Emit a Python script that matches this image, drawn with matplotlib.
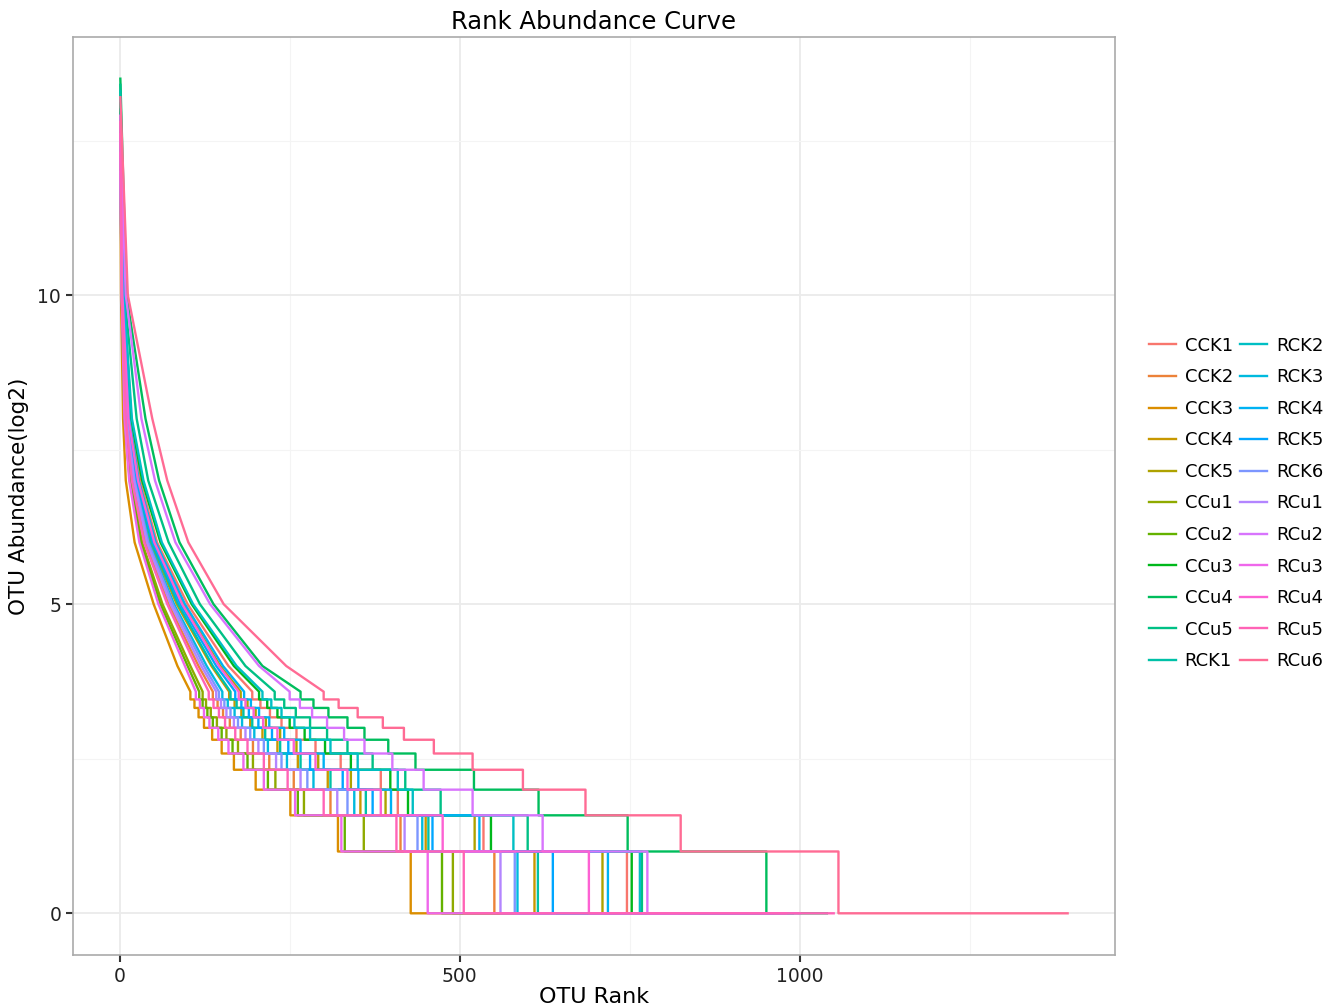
import numpy as np
import matplotlib.pyplot as plt

samples = ["CCK1", "CCK2", "CCK3", "CCK4", "CCK5", "CCu1", "CCu2", "CCu3", "CCu4", "CCu5",
           "RCK1", "RCK2", "RCK3", "RCK4", "RCK5", "RCK6", "RCu1", "RCu2", "RCu3", "RCu4",
           "RCu5", "RCu6"]

# last OTU rank still holding at least k reads (k = 1 .. 12), one value per sample
last_rank_1 = [950, 790, 590, 880, 940, 720, 700, 960, 1040, 990, 900, 970,
               830, 960, 920, 850, 820, 1000, 640, 980, 1050, 1394]
last_rank_2 = [746, 551, 428, 610, 710, 490, 474, 753, 951, 768, 615, 765,
               585, 718, 637, 581, 560, 776, 453, 690, 506, 1057]
last_rank_3 = [535, 413, 321, 450, 522, 359, 331, 546, 747, 600, 454, 579,
               445, 529, 460, 438, 419, 622, 326, 475, 407, 825]
last_rank_4 = [409, 310, 251, 354, 391, 271, 262, 424, 616, 472, 362, 431,
               345, 399, 372, 335, 320, 519, 258, 384, 300, 685]
last_rank_5 = [384, 256, 200, 306, 340, 229, 218, 398, 521, 420, 310, 409,
               285, 351, 328, 276, 266, 447, 212, 335, 247, 593]
last_rank_6 = [325, 220, 168, 262, 292, 196, 188, 340, 435, 372, 266, 350,
               246, 300, 280, 238, 230, 401, 182, 288, 212, 519]
last_rank_7 = [288, 196, 150, 232, 260, 174, 166, 302, 395, 335, 236, 310,
               218, 266, 248, 212, 204, 360, 160, 256, 188, 462]
last_rank_8 = [260, 178, 136, 210, 236, 157, 150, 272, 360, 305, 214, 280,
               198, 242, 224, 192, 185, 330, 145, 232, 170, 418]
last_rank_9 = [238, 162, 124, 192, 215, 143, 137, 250, 335, 280, 195, 257,
               180, 220, 204, 174, 168, 305, 132, 211, 155, 387]
last_rank_10 = [221, 152, 116, 179, 200, 134, 129, 232, 307, 259, 182, 238,
                169, 205, 190, 163, 157, 283, 124, 197, 146, 350]
last_rank_11 = [207, 144, 110, 169, 188, 127, 122, 217, 285, 242, 172, 223,
                159, 193, 179, 154, 149, 265, 118, 185, 138, 322]
last_rank_12 = [195, 137, 104, 161, 178, 122, 117, 205, 266, 228, 163, 210,
                151, 183, 170, 146, 142, 250, 112, 175, 131, 300]

# rank where each curve reaches log2 abundance 4, 5, 6, 7, 8, 10
rank_at_4 = [160, 116, 85, 135, 148, 104, 100, 168, 210, 185, 137, 172,
             128, 152, 142, 124, 120, 205, 96, 146, 112, 245]
rank_at_5 = [100, 72, 50, 84, 93, 63, 60, 106, 138, 118, 86, 108,
             80, 96, 89, 78, 75, 133, 57, 92, 70, 153]
rank_at_6 = [55, 38, 22, 45, 52, 33, 31, 60, 88, 72, 47, 62,
             43, 53, 49, 42, 40, 82, 29, 51, 36, 101]
rank_at_7 = [30, 19, 9, 23, 27, 16, 15, 33, 58, 42, 25, 35,
             23, 28, 25, 22, 21, 52, 14, 27, 18, 70]
rank_at_8 = [15, 9, 5, 11, 13, 8, 7, 17, 38, 25, 12, 18,
             11, 14, 12, 10, 10, 32, 7, 13, 9, 48]
rank_at_10 = [5, 3, 2, 4, 4, 3, 3, 6, 10, 7, 4, 6,
              4, 5, 4, 3, 3, 9, 3, 4, 3, 12]
top_log2 = [12.6, 12.4, 12.5, 13.1, 12.4, 12.2, 13.0, 13.0, 13.5, 13.4, 13.3, 12.9,
            12.9, 12.8, 12.7, 12.6, 12.0, 12.6, 12.3, 12.9, 12.8, 13.2]


def hue_pal(n, l=65, c=100):
    # ggplot2 default discrete palette (HCL hues from 15 to 375)
    h = np.deg2rad(np.linspace(15, 375, n + 1)[:-1])
    u = c * np.cos(h)
    v = c * np.sin(h)
    Y = ((l + 16) / 116) ** 3
    un, vn = 0.1978398, 0.4683363
    up = u / (13 * l) + un
    vp = v / (13 * l) + vn
    X = Y * 9 * up / (4 * vp)
    Z = Y * (12 - 3 * up - 20 * vp) / (4 * vp)
    M = np.array([[3.2404542, -1.5371385, -0.4985314],
                  [-0.9692660, 1.8760108, 0.0415560],
                  [0.0556434, -0.2040259, 1.0572252]])
    rgb = (M @ np.vstack([X, np.full(n, Y), Z])).T
    rgb = np.where(rgb <= 0.0031308, 12.92 * rgb,
                   1.055 * np.clip(rgb, 0, None) ** (1 / 2.4) - 0.055)
    return np.clip(rgb, 0, 1)


colors = hue_pal(len(samples))

fig = plt.figure(figsize=(13.39, 10.07), dpi=100)
ax = fig.add_axes([0.0545, 0.0516, 0.7782, 0.9117])

tails = [last_rank_1, last_rank_2, last_rank_3, last_rank_4, last_rank_5, last_rank_6,
         last_rank_7, last_rank_8, last_rank_9, last_rank_10, last_rank_11, last_rank_12]

for i, name in enumerate(samples):
    xs = [1, rank_at_10[i], rank_at_8[i], rank_at_7[i], rank_at_6[i], rank_at_5[i], rank_at_4[i]]
    ys = [top_log2[i], 10, 8, 7, 6, 5, 4]
    # staircase for low abundances, 12 reads down to singletons
    n = len(tails)
    for k in range(n, 0, -1):
        end = tails[k - 1][i]
        xs += [end]
        ys += [np.log2(k)]
        if k > 1:
            xs += [end]
            ys += [np.log2(k - 1)]
    ax.plot(xs, ys, color=colors[i], lw=1.7, label=name)

ax.set_xlim(-68.65, 1463.65)
ax.set_ylim(-0.675, 14.175)
ax.set_xticks([0, 500, 1000])
ax.set_yticks([0, 5, 10])
ax.set_xticks([250, 750, 1250], minor=True)
ax.set_yticks([2.5, 7.5, 12.5], minor=True)
ax.grid(which="major", color="#ebebeb", lw=1.3)
ax.grid(which="minor", color="#f4f4f4", lw=0.8)
ax.set_axisbelow(True)
ax.tick_params(which="major", length=5, width=1.5, color="#333333",
               labelsize=13.5, labelcolor="#222222")
ax.tick_params(which="minor", length=0)
for s in ax.spines.values():
    s.set_color("#aaaaaa")
    s.set_linewidth(1.2)

ax.set_title("Rank Abundance Curve", fontsize=17.5, pad=6)
ax.set_xlabel("OTU Rank", fontsize=16, labelpad=1)
ax.set_ylabel("OTU Abundance(log2)", fontsize=15.5, labelpad=6)

ax.legend(loc="center left", bbox_to_anchor=(0.851, 0.5), bbox_transform=fig.transFigure,
          ncol=2, frameon=False, fontsize=13, handlelength=1.5, handletextpad=0.5,
          columnspacing=0.4, labelspacing=0.75, borderpad=0)

fig.savefig("out.png", dpi=100)
